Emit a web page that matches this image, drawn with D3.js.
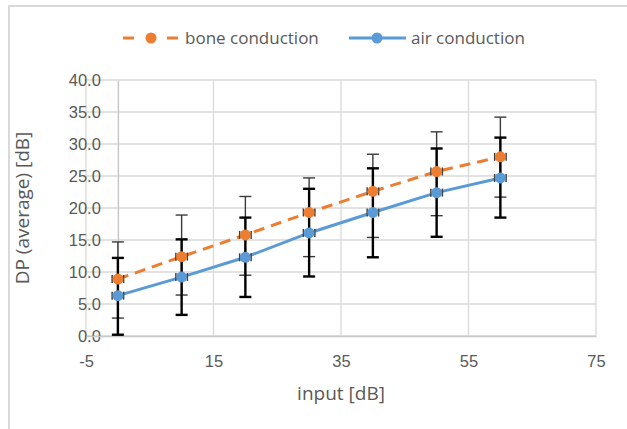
<!DOCTYPE html>
<html>
<head>
<meta charset="utf-8">
<script src="https://cdn.jsdelivr.net/npm/d3@7"></script>
<style>
  body { margin: 0; background: #fff; }
  svg { display: block; font-family: "Open Sans", sans-serif; }
  .tick text { fill: #595959; font-size: 16.5px; }
</style>
</head>
<body>
<script>
// values
const inputLevels = [0, 10, 20, 30, 40, 50, 60];
const boneMean = [8.9, 12.4, 15.8, 19.3, 22.6, 25.7, 28.0];
const boneHi   = [14.7, 18.9, 21.8, 24.7, 28.4, 31.9, 34.2];
const boneLo   = [2.8, 6.4, 9.5, 12.4, 15.4, 18.8, 21.7];
const airMean  = [6.3, 9.2, 12.3, 16.1, 19.3, 22.4, 24.7];
const airHi    = [12.2, 15.1, 18.5, 23.0, 26.2, 29.3, 31.0];
const airLo    = [0.2, 3.3, 6.1, 9.3, 12.3, 15.5, 18.5];
const xErr = 0.9; // small horizontal error bars
const xTicks = [-5, 15, 35, 55, 75];
const yTicks = [0, 5, 10, 15, 20, 25, 30, 35, 40];
const seriesNames = ["bone conduction", "air conduction"];

const W = 627, H = 429;
const orange = "#ED7D31", blue = "#5B9BD5";

const svg = d3.select("body").append("svg")
    .attr("width", W)
    .attr("height", H);

// chart frame
svg.append("rect")
    .attr("x", 9).attr("y", 6)
    .attr("width", W + 20).attr("height", H + 20)
    .attr("fill", "none")
    .attr("stroke", "#d9d9d9")
    .attr("stroke-width", 2);

const x = d3.scaleLinear().domain([-5, 75]).range([86, 596]);
const y = d3.scaleLinear().domain([0, 40]).range([336, 80]);

// grid
svg.append("g").selectAll("line").data(yTicks).join("line")
    .attr("x1", x(-5)).attr("x2", x(75))
    .attr("y1", d => y(d)).attr("y2", d => y(d))
    .attr("stroke", "#d9d9d9").attr("stroke-width", 1.3);
svg.append("g").selectAll("line").data(xTicks).join("line")
    .attr("x1", d => x(d)).attr("x2", d => x(d))
    .attr("y1", y(0)).attr("y2", y(40))
    .attr("stroke", "#d9d9d9").attr("stroke-width", 1.3);

// axes (cross at 0)
const yAxis = svg.append("g")
    .attr("transform", "translate(" + x(0) + ",0)")
    .call(d3.axisLeft(y).tickValues(yTicks).tickFormat(d => d.toFixed(1)).tickSize(0).tickPadding(17));
yAxis.select(".domain").attr("stroke", "#c8c8c8").attr("stroke-width", 1.5);

const xAxis = svg.append("g")
    .attr("transform", "translate(0," + y(0) + ")")
    .call(d3.axisBottom(x).tickValues(xTicks).tickFormat(d => String(d)).tickSize(0).tickPadding(19));
xAxis.select(".domain").attr("stroke", "#c8c8c8").attr("stroke-width", 1.5);

// axis titles
svg.append("text")
    .attr("x", x(35)).attr("y", 400)
    .attr("text-anchor", "middle")
    .attr("fill", "#595959").attr("font-size", 19)
    .text("input [dB]");
svg.append("text")
    .attr("transform", "translate(29," + y(20) + ") rotate(-90)")
    .attr("text-anchor", "middle")
    .attr("fill", "#595959").attr("font-size", 19)
    .text("DP (average) [dB]");

// vertical error bars: bone thin gray first, air thick black on top
function errBars(hi, lo, color, width, capW) {
    const g = svg.append("g").attr("stroke", color).attr("stroke-width", width);
    inputLevels.forEach((v, i) => {
        g.append("line").attr("x1", x(v)).attr("x2", x(v)).attr("y1", y(hi[i])).attr("y2", y(lo[i]));
        [hi[i], lo[i]].forEach(e => {
            g.append("line").attr("x1", x(v) - capW).attr("x2", x(v) + capW)
                .attr("y1", y(e)).attr("y2", y(e));
        });
    });
}
errBars(boneHi, boneLo, "#3a3a3a", 1.4, 6);
errBars(airHi, airLo, "#000", 2.4, 6);

// series lines
const line = d3.line().x(d => x(d[0])).y(d => y(d[1]));
svg.append("path")
    .datum(d3.zip(inputLevels, boneMean))
    .attr("d", line)
    .attr("fill", "none").attr("stroke", orange).attr("stroke-width", 3)
    .attr("stroke-dasharray", "11,7");
svg.append("path")
    .datum(d3.zip(inputLevels, airMean))
    .attr("d", line)
    .attr("fill", "none").attr("stroke", blue).attr("stroke-width", 3);

// horizontal error bars and markers
function points(means, color) {
    const g = svg.append("g");
    inputLevels.forEach((v, i) => {
        const cy = y(means[i]);
        g.append("line").attr("x1", x(v - xErr)).attr("x2", x(v + xErr))
            .attr("y1", cy).attr("y2", cy).attr("stroke", "#404040").attr("stroke-width", 1.5);
        [v - xErr, v + xErr].forEach(e => {
            g.append("line").attr("x1", x(e)).attr("x2", x(e))
                .attr("y1", cy - 4).attr("y2", cy + 4)
                .attr("stroke", "#404040").attr("stroke-width", 1.5);
        });
        g.append("circle").attr("cx", x(v)).attr("cy", cy).attr("r", 5.5).attr("fill", color);
    });
}
points(boneMean, orange);
points(airMean, blue);

// legend
const leg = svg.append("g").attr("font-size", 17).attr("fill", "#595959");
[[123, 134], [167, 178]].forEach(s => {
    leg.append("line").attr("x1", s[0]).attr("x2", s[1]).attr("y1", 38).attr("y2", 38)
        .attr("stroke", orange).attr("stroke-width", 3);
});
leg.append("circle").attr("cx", 151).attr("cy", 38).attr("r", 5.5).attr("fill", orange);
leg.append("text").attr("x", 185).attr("y", 44).text(seriesNames[0]);
leg.append("line").attr("x1", 349).attr("x2", 406).attr("y1", 38).attr("y2", 38)
    .attr("stroke", blue).attr("stroke-width", 3);
leg.append("circle").attr("cx", 377).attr("cy", 38).attr("r", 5.5).attr("fill", blue);
leg.append("text").attr("x", 411).attr("y", 44).text(seriesNames[1]);
</script>
</body>
</html>
